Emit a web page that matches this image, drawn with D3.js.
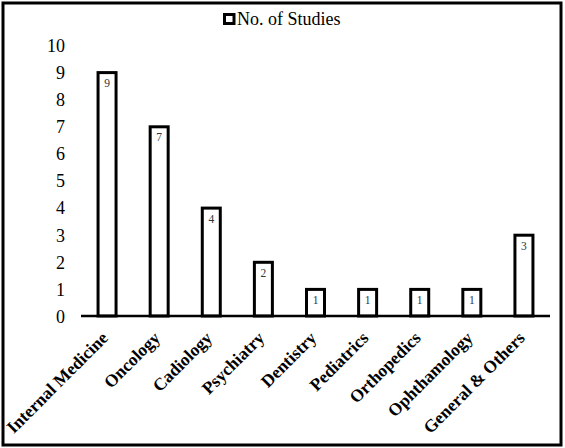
<!DOCTYPE html>
<html><head><meta charset="utf-8">
<script src="https://cdn.jsdelivr.net/npm/d3@7"></script>
<style>body{margin:0;background:#fff;}svg{display:block;} text{font-family:"Liberation Serif","Times New Roman",serif;}</style>
</head><body>
<script>
const categories = ["Internal Medicine","Oncology","Cadiology","Psychiatry","Dentistry","Pediatrics","Orthopedics","Ophthamology","General & Others"];
const values = [9,7,4,2,1,1,1,1,3];
const yTicks = [0,1,2,3,4,5,6,7,8,9,10];
const seriesName = "No. of Studies";

const W = 565, H = 448;
const svg = d3.select("body").append("svg").attr("width", W).attr("height", H);

svg.append("rect").attr("x",3).attr("y",3).attr("width",558).attr("height",442)
  .attr("fill","#fff").attr("stroke","#000").attr("stroke-width",3);

const x = d3.scaleBand().domain(categories).range([81,550]).paddingInner(0.6).paddingOuter(0.3);
const y = d3.scaleLinear().domain([0,10]).range([316,45]);

// bars
svg.selectAll("rect.bar").data(values).enter().append("rect").attr("class","bar")
  .attr("x",(d,i)=>x(categories[i])+x.bandwidth()/2-9)
  .attr("width",18)
  .attr("y",d=>y(d)+0.5)
  .attr("height",d=>y(0)-y(d)-0.5)
  .attr("fill","#fff").attr("stroke","#000").attr("stroke-width",3);

// value labels
svg.selectAll("text.val").data(values).enter().append("text").attr("class","val")
  .attr("x",(d,i)=>x(categories[i])+x.bandwidth()/2)
  .attr("y",d=>y(d)+15)
  .attr("text-anchor","middle").attr("font-size",11.5).attr("fill","#333")
  .text(d=>d);

// x axis line
const xAxis = d3.axisBottom(x).tickSize(0).tickFormat("");
const gx = svg.append("g").attr("transform","translate(0,316)").call(xAxis);
gx.select(".domain").attr("stroke","#000").attr("stroke-width",2.5).attr("d","M81,0H550");

// x labels
svg.selectAll("text.xl").data(categories).enter().append("text").attr("class","xl")
  .attr("transform",d=>`translate(${x(d)+x.bandwidth()/2+2},339) rotate(-45)`)
  .attr("text-anchor","end").attr("font-weight","bold")
  .attr("font-size",17.5).attr("fill","#000").text(d=>d);

// y axis
const yAxis = d3.axisLeft(y).tickValues(yTicks).tickSize(0).tickPadding(0);
const gy = svg.append("g").attr("transform","translate(65,0)").call(yAxis);
gy.select(".domain").remove();
gy.selectAll("text").attr("font-size",18).attr("fill","#000").attr("dy","0.35em");

// legend
const lg = svg.append("g");
lg.append("rect").attr("x",224.5).attr("y",14.5).attr("width",9.5).attr("height",9)
  .attr("fill","#fff").attr("stroke","#000").attr("stroke-width",3);
lg.append("text").attr("x",237).attr("y",25).attr("font-size",18)
  .attr("fill","#000").text(seriesName);
</script>
</body></html>
